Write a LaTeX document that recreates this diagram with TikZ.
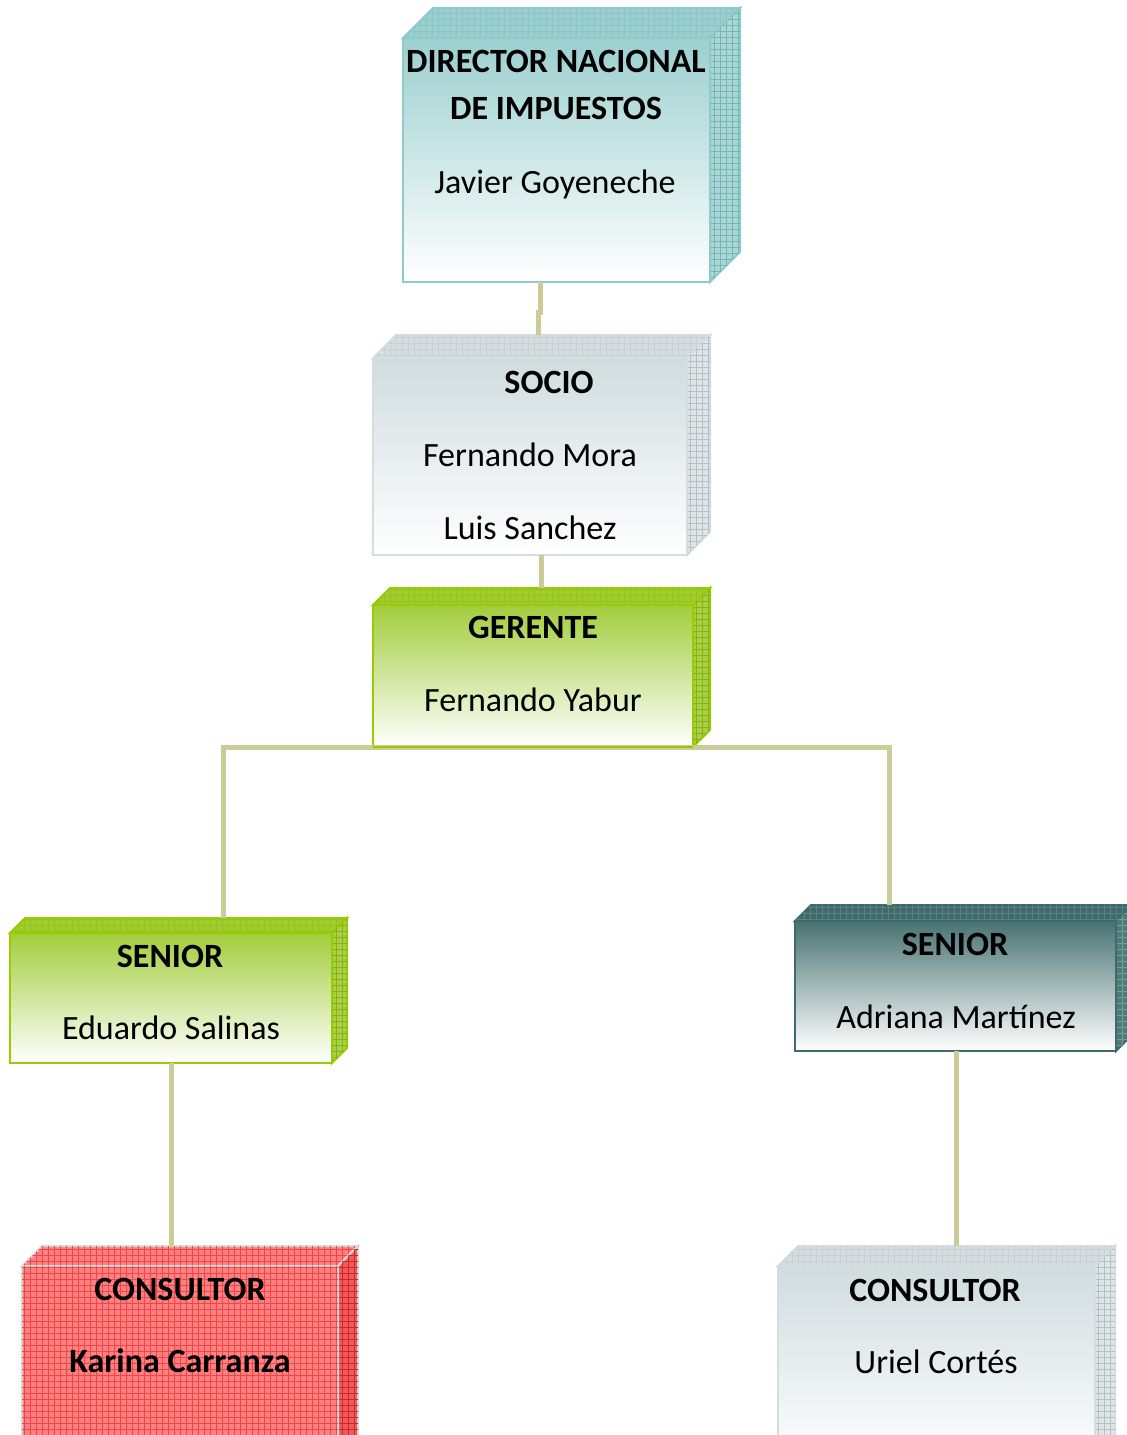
\documentclass[tikz,border=0pt]{standalone}
\usepackage{fontspec}
\setmainfont{Carlito}
\usetikzlibrary{patterns}
\definecolor{connc}{RGB}{204,204,153}
% director (teal)
\definecolor{dirTop}{RGB}{155,206,206}
\definecolor{dirFront}{RGB}{156,207,207}
\definecolor{dirLine}{RGB}{143,203,203}
\definecolor{dirSide}{RGB}{170,214,214}
\definecolor{dirGrid}{RGB}{120,180,180}
% grey-blue
\definecolor{gbTop}{RGB}{212,222,225}
\definecolor{gbFront}{RGB}{208,220,223}
\definecolor{gbLine}{RGB}{212,222,225}
\definecolor{gbSide}{RGB}{222,229,231}
\definecolor{gbGrid}{RGB}{180,192,196}
% green
\definecolor{grTop}{RGB}{160,205,40}
\definecolor{grFront}{RGB}{162,205,60}
\definecolor{grLine}{RGB}{153,204,0}
\definecolor{grSide}{RGB}{168,208,64}
\definecolor{grGrid}{RGB}{130,176,30}
% dark teal
\definecolor{dtTop}{RGB}{64,106,106}
\definecolor{dtFront}{RGB}{72,114,114}
\definecolor{dtLine}{RGB}{63,107,107}
\definecolor{dtSide}{RGB}{80,123,123}
\definecolor{dtGrid}{RGB}{115,155,155}
% red
\definecolor{rdFace}{RGB}{255,128,128}
\definecolor{rdGrid}{RGB}{240,70,70}
\definecolor{rdSide}{RGB}{240,90,90}
\definecolor{rdSideGrid}{RGB}{205,40,40}
\definecolor{rdLine}{RGB}{210,216,216}
\tikzset{
  conn/.style={draw=connc, line width=2.5pt},
  title/.style={font=\fontsize{17}{20}\selectfont\bfseries, inner sep=0pt, anchor=base},
  person/.style={font=\fontsize{17}{20}\selectfont, inner sep=0pt, anchor=base},
  boldperson/.style={font=\fontsize{17}{20}\selectfont\bfseries, inner sep=0pt, anchor=base},
}
% #1 name, #2 x, #3 y (front top-left), #4 width, #5 height, #6 depth,
% #7 front style, #8 top style, #9 side style
\newcommand\boxthree[9]{%
  \path[#8] (#2,#3) -- (#2+#6,#3-#6) -- (#2+#4+#6,#3-#6) -- (#2+#4,#3) -- cycle;
  \path[#9] (#2+#4,#3) -- (#2+#4+#6,#3-#6) -- (#2+#4+#6,#3+#5-#6) -- (#2+#4,#3+#5) -- cycle;
  \node[#7, anchor=north west, inner sep=0pt, outer sep=0pt,
        minimum width={#4*0.5pt}, minimum height={#5*0.5pt}] (#1) at (#2,#3) {};
  \coordinate (#1-top) at (#2+#6,#3-#6);
}
\begin{document}
\begin{tikzpicture}[x=0.5pt,y=-0.5pt]
\useasboundingbox (0,0) rectangle (1127,1435);
\clip (0,0) rectangle (1127,1435);
\fill[white] (0,0) rectangle (1127,1435);

% boxes
\boxthree{dir}{403}{38}{307}{244}{30}
  {draw=dirLine, line width=1pt, top color=dirFront, bottom color=white}
  {fill=dirTop, postaction={pattern=grid, pattern color=dirGrid!40!dirTop}, draw=dirLine, line width=1pt}
  {fill=dirSide, postaction={pattern=grid, pattern color=dirGrid}, draw=dirLine, line width=1pt}
\boxthree{soc}{373}{358}{314}{197}{23}
  {draw=gbLine, line width=1pt, top color=gbFront, bottom color=white}
  {fill=gbTop, postaction={pattern=grid, pattern color=gbGrid!40!gbTop}, draw=gbLine, line width=1pt}
  {fill=gbSide, postaction={pattern=grid, pattern color=gbGrid}, draw=gbLine, line width=1pt}
\boxthree{ger}{373}{605}{320}{142}{17}
  {draw=grLine, line width=1pt, top color=grFront, bottom color=white}
  {fill=grTop, postaction={pattern=grid, pattern color=grGrid!40!grTop}, draw=grLine, line width=1pt}
  {fill=grSide, postaction={pattern=grid, pattern color=grGrid}, draw=grLine, line width=1pt}
\boxthree{sl}{10}{933}{322}{130}{15}
  {draw=grLine, line width=1pt, top color=grFront, bottom color=white}
  {fill=grTop, postaction={pattern=grid, pattern color=grGrid!40!grTop}, draw=grLine, line width=1pt}
  {fill=grSide, postaction={pattern=grid, pattern color=grGrid}, draw=grLine, line width=1pt}
\boxthree{sr}{795}{921}{321}{130}{16}
  {draw=dtLine, line width=1pt, top color=dtFront, bottom color=white}
  {fill=dtTop, postaction={pattern=grid, pattern color=dtGrid!50!dtTop}, draw=dtLine, line width=1pt}
  {fill=dtSide, postaction={pattern=grid, pattern color=dtGrid}, draw=dtLine, line width=1pt}
\boxthree{cl}{22}{1266}{316}{200}{20}
  {draw=rdLine, line width=1pt, fill=rdFace, postaction={pattern=grid, pattern color=rdGrid}}
  {fill=rdFace, postaction={pattern=grid, pattern color=rdGrid}, draw=rdLine, line width=1pt}
  {fill=rdSide, postaction={pattern=grid, pattern color=rdSideGrid}, draw=rdLine, line width=1pt}
\boxthree{cr}{778}{1266}{317}{200}{20}
  {draw=gbLine, line width=1pt, top color=gbFront, bottom color=white}
  {fill=gbTop, postaction={pattern=grid, pattern color=gbGrid!40!gbTop}, draw=gbLine, line width=1pt}
  {fill=gbSide, postaction={pattern=grid, pattern color=gbGrid}, draw=gbLine, line width=1pt}

% connectors
\draw[conn] (540,0 |- dir.south) -- (540,312) -| (538,0 |- soc-top);
\draw[conn] (541,0 |- soc.south) -- (541,0 |- ger-top);
\draw[conn] (223,0 |- sl-top) |- (ger.south) -| (889,0 |- sr-top);
\draw[conn] (171,0 |- sl.south) -- (171,0 |- cl-top);
\draw[conn] (956,0 |- sr.south) -- (956,0 |- cr-top);
% redraw the gerente bottom edge over the horizontal connector
\draw[grLine, line width=1pt] (ger.south west) -- (ger.south east);

% texts
\node[title] (dirT1) at (556,72) {DIRECTOR NACIONAL};
\node[title] (dirT2) at (556,119) {DE IMPUESTOS};
\node[person] (dirP) at (555,193) {Javier Goyeneche};

\node[title] (socT) at (549,393) {SOCIO};
\node[person] (socP1) at (530,466) {Fernando Mora};
\node[person] (socP2) at (530,539) {Luis Sanchez};

\node[title] (gerT) at (533,638) {GERENTE};
\node[person] (gerP) at (533,711) {Fernando Yabur};

\node[title] (slT) at (170,967) {SENIOR};
\node[person] (slP) at (171,1039) {Eduardo Salinas};

\node[title] (srT) at (955,955) {SENIOR};
\node[person] (srP) at (956,1028) {Adriana Martínez};

\node[title] (clT) at (180,1300) {CONSULTOR};
\node[boldperson] (clP) at (180,1372) {Karina Carranza};

\node[title] (crT) at (935,1301) {CONSULTOR};
\node[person] (crP) at (936,1373) {Uriel Cortés};
\end{tikzpicture}
\end{document}
